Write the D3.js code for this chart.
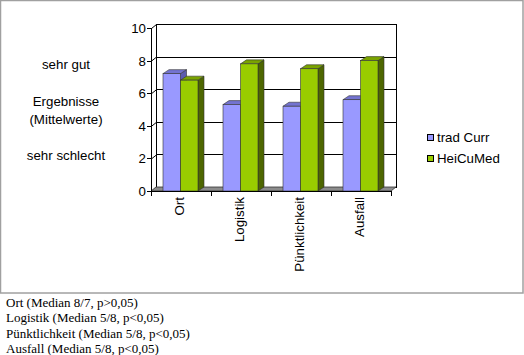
<!DOCTYPE html>
<html><head><meta charset="utf-8">
<script src="https://cdn.jsdelivr.net/npm/d3@7"></script>
<style>body{margin:0;background:#fff}svg{display:block}</style>
</head><body>
<script>
const categories = ["Ort", "Logistik", "Pünktlichkeit", "Ausfall"];
const seriesNames = ["trad Curr", "HeiCuMed"];
const tradCurr = [7.2, 5.3, 5.2, 5.6];
const heiCuMed = [6.8, 7.8, 7.5, 8.0];
const yTicks = [0, 2, 4, 6, 8, 10];
const leftLabels = ["sehr gut", "Ergebnisse", "(Mittelwerte)", "sehr schlecht"];
const notes = ["Ort (Median 8/7, p>0,05)", "Logistik (Median 5/8, p<0,05)", "Pünktlichkeit (Median 5/8, p<0,05)", "Ausfall (Median 5/8, p<0,05)"];

const W = 524, H = 355;
const FS = 13.3;
const svg = d3.select("body").append("svg").attr("width", W).attr("height", H);

// outer border
svg.append("rect").attr("x", 0.5).attr("y", 0.5).attr("width", 522.5).attr("height", 292.5)
  .attr("fill", "#fff").attr("stroke", "#a0a0a0").attr("stroke-width", 1.5);

const x0 = 151, x1 = 391, yBot = 191, yTop = 28;
const wx = 5, wy = -4; // wall depth
const x = d3.scaleBand().domain(categories).range([x0, x1]);
const xs = d3.scaleBand().domain(seriesNames).range([12, 47]);
const y = d3.scaleLinear().domain([0, 10]).range([yBot, yTop]);

// back wall
svg.append("rect").attr("x", x0 + wx + 0.5).attr("y", y(10) + wy + 0.5)
  .attr("width", x1 - x0).attr("height", y(0) - y(10))
  .attr("fill", "#fff").attr("stroke", "#000");
yTicks.filter(t => t > 0 && t < 10).forEach(t => {
  const yy = Math.round(y(t) + wy) + 0.5;
  svg.append("line").attr("x1", x0 + wx).attr("x2", x1 + wx).attr("y1", yy).attr("y2", yy).attr("stroke", "#000");
});
yTicks.forEach(t => {
  svg.append("line").attr("x1", x0 + 0.5).attr("y1", y(t) + 0.5).attr("x2", x0 + wx + 0.5).attr("y2", y(t) + wy + 0.5).attr("stroke", "#000");
});
// floor
svg.append("path").attr("d", `M${x0},${yBot}L${x1},${yBot}L${x1 + wx},${yBot + wy}L${x0 + wx},${yBot + wy}Z`)
  .attr("fill", "#8c8c8c").attr("stroke", "#333").attr("stroke-width", 0.8);

// bars
const bx = 6, by = -4;
const colors = {
  "trad Curr": {front: "#9999ff", top: "#7373d0", side: "#5c5cae"},
  "HeiCuMed": {front: "#99cc00", top: "#7aa300", side: "#4d6600"}
};
const data = [];
categories.forEach((c, i) => {
  data.push({c, s: "trad Curr", v: tradCurr[i]});
  data.push({c, s: "HeiCuMed", v: heiCuMed[i]});
});
data.forEach(d => {
  const left = x(d.c) + xs(d.s), w = xs.bandwidth(), top = y(d.v), bot = y(0);
  const col = colors[d.s];
  const g = svg.append("g").attr("stroke", "#333").attr("stroke-width", 0.6);
  g.append("path").attr("d", `M${left + w},${bot}L${left + w + bx},${bot + by}L${left + w + bx},${top + by}L${left + w},${top}Z`).attr("fill", col.side);
  g.append("path").attr("d", `M${left},${top}L${left + bx},${top + by}L${left + w + bx},${top + by}L${left + w},${top}Z`).attr("fill", col.top);
  g.append("rect").attr("x", left).attr("y", top).attr("width", w).attr("height", bot - top).attr("fill", col.front);
});

// y axis
svg.append("line").attr("x1", x0 + 0.5).attr("x2", x0 + 0.5).attr("y1", yTop).attr("y2", yBot).attr("stroke", "#000");
yTicks.forEach(t => {
  svg.append("line").attr("x1", x0 - 4).attr("x2", x0).attr("y1", Math.round(y(t)) + 0.5).attr("y2", Math.round(y(t)) + 0.5).attr("stroke", "#000");
  svg.append("text").attr("x", x0 - 5).attr("y", y(t) + 5).attr("text-anchor", "end")
    .attr("font-family", "Liberation Sans, Arial").attr("font-size", FS).text(t);
});
// x axis
svg.append("line").attr("x1", x0).attr("x2", x1).attr("y1", yBot + 0.5).attr("y2", yBot + 0.5).attr("stroke", "#000");
d3.range(categories.length + 1).forEach(i => {
  const xx = x0 + i * x.bandwidth() + 0.5;
  svg.append("line").attr("x1", xx).attr("x2", xx).attr("y1", yBot).attr("y2", yBot + 5).attr("stroke", "#000");
});
categories.forEach(c => {
  const cx = x(c) + x.bandwidth() / 2 + 2.5;
  svg.append("text").attr("transform", `translate(${cx},${yBot + 6}) rotate(-90)`)
    .attr("text-anchor", "end").attr("font-family", "Liberation Sans, Arial").attr("font-size", FS).text(c);
});

// legend
seriesNames.forEach((s, i) => {
  const ly = 134 + i * 21;
  svg.append("rect").attr("x", 427.5).attr("y", ly + 0.5).attr("width", 6).attr("height", 6)
    .attr("fill", colors[s].front).attr("stroke", "#000");
  svg.append("text").attr("x", 437).attr("y", ly + 7.5).attr("font-family", "Liberation Sans, Arial").attr("font-size", FS).text(s);
});

// left labels
const leftY = [69, 106, 124, 160];
leftLabels.forEach((t, i) => {
  svg.append("text").attr("x", 66).attr("y", leftY[i]).attr("text-anchor", "middle")
    .attr("font-family", "Liberation Sans, Arial").attr("font-size", FS).text(t);
});

// notes
notes.forEach((t, i) => {
  svg.append("text").attr("x", 6).attr("y", 307 + i * 15.4).attr("font-family", "Liberation Serif, Times New Roman, serif")
    .attr("font-size", 13).text(t);
});
</script>
</body></html>
